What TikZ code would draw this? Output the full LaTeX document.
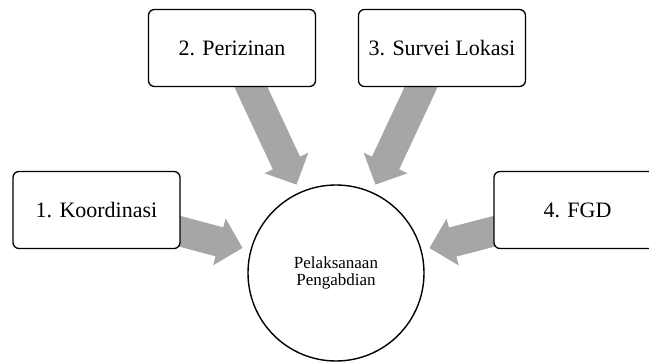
\documentclass[tikz,border=0pt]{standalone}
\usepackage{fontspec}
\setmainfont{Liberation Serif}
\usetikzlibrary{arrows.meta,backgrounds}
\tikzset{
    tahap/.style={rectangle, draw=black, fill=white, line width=1.3pt, rounded corners=6pt,
                  minimum width=167pt, minimum height=77pt, font=\fontsize{22}{26}\selectfont},
    pusat/.style={circle, draw=black, line width=1.4pt, minimum size=176pt, inner sep=0pt,
                  align=center, font=\fontsize{17}{17}\selectfont},
    panah/.style={draw=black!35, line width=30pt, -{Triangle[width=47pt, length=24pt]},
                  shorten >=8pt, shorten <=-15pt}
}

\begin{document}
\begin{tikzpicture}
  [
    x = 1pt,
    y = 1pt,
  ]
  \useasboundingbox (0,0) rectangle (649,362);
  \clip (0,0) rectangle (649,362);

  % kegiatan
  \node [pusat] (pusat) at (336,89) {Pelaksanaan\\Pengabdian};
  \node [tahap] (koordinasi) at (96.5,152) {1. Koordinasi};
  \node [tahap] (perizinan) at (232,314) {2. Perizinan};
  \node [tahap] (survei) at (442,314) {3. Survei Lokasi};
  \node [tahap] (fgd) at (577.5,152) {4. FGD};

  % panah ke pusat
  \begin{pgfonlayer}{background}
    \draw [panah] ([yshift=-21.5pt]koordinasi.east) -- (pusat.165);
    \draw [panah] ([xshift=19pt]perizinan.south) -- (pusat.114);
    \draw [panah] ([xshift=-21pt]survei.south) -- (pusat.66);
    \draw [panah] ([yshift=-21.5pt]fgd.west) -- (pusat.15);
  \end{pgfonlayer}
\end{tikzpicture}
\end{document}
